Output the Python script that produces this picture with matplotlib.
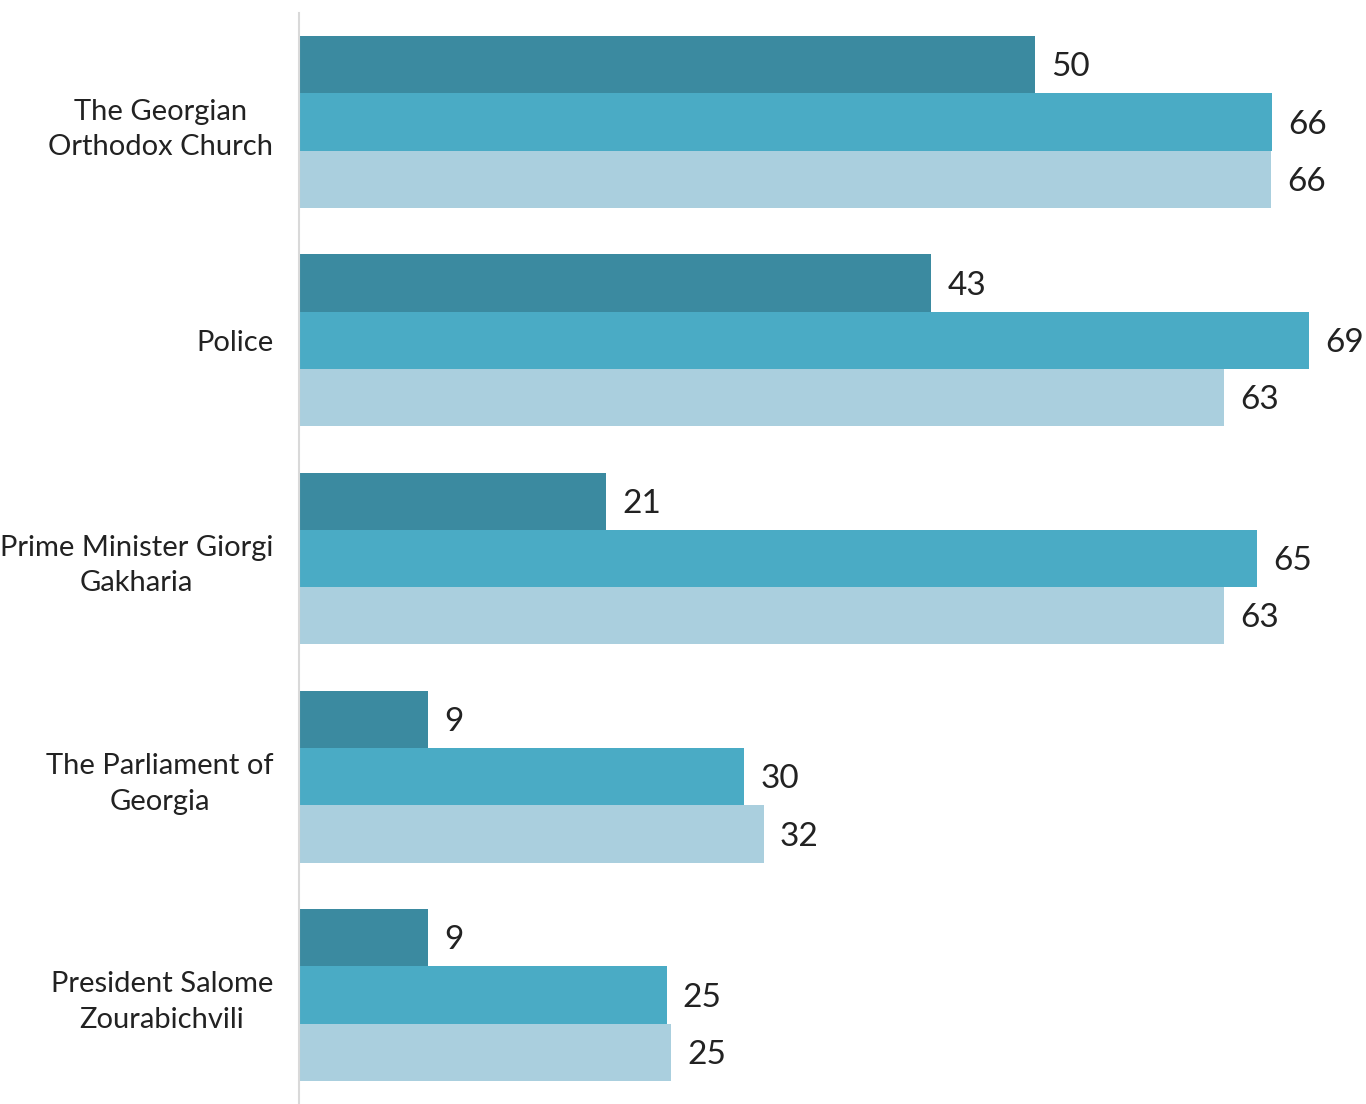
import matplotlib
matplotlib.use("Agg")
import matplotlib.pyplot as plt
import numpy as np

categories = ["The Georgian\nOrthodox Church", "Police", "Prime Minister Giorgi\nGakharia",
              "The Parliament of\nGeorgia", "President Salome\nZourabichvili"]
series_a = [50.1, 43.0, 20.9, 8.8, 8.8]
series_b = [66.2, 68.7, 65.2, 30.3, 25.0]
series_c = [66.1, 62.9, 62.9, 31.6, 25.3]
labels_a = [50, 43, 21, 9, 9]
labels_b = [66, 69, 65, 30, 25]
labels_c = [66, 63, 63, 32, 25]
colors = ["#3b8aa0", "#4aabc5", "#aacfde"]

plt.rcParams['font.family'] = ['Lato', 'DejaVu Sans']

fig = plt.figure(figsize=(13.66, 11.04), dpi=100)
ax = fig.add_axes([299/1366, 0, 1 - 299/1366, 1 - 13/1104])

y = np.arange(len(categories))
h = 0.2625
for i, (vals, labs) in enumerate([(series_a, labels_a), (series_b, labels_b), (series_c, labels_c)]):
    pos = y + (i - 1) * h
    ax.barh(pos, vals, height=h, color=colors[i], edgecolor="none")
    for p, v, l in zip(pos, vals, labs):
        ax.text(v + 1.1, p + 0.012, str(l), va="center", ha="left", fontsize=24, color="#222222")

ax.set_ylim(len(categories) - 0.5, -0.5)
ax.set_xlim(0, (1366 - 299) / 14.7)
ax.set_yticks(y)
ax.set_yticklabels(categories, fontsize=21, color="#222222", linespacing=1.45)
for lab in ax.get_yticklabels():
    lab.set_horizontalalignment("right")
    lab.set_multialignment("center")
ax.tick_params(axis="y", length=0, pad=18.5)
ax.set_xticks([])
for s in ["top", "right", "bottom"]:
    ax.spines[s].set_visible(False)
ax.spines["left"].set_color("#d9d9d9")
ax.spines["left"].set_linewidth(1.5)

fig.savefig("out.png", dpi=100)
